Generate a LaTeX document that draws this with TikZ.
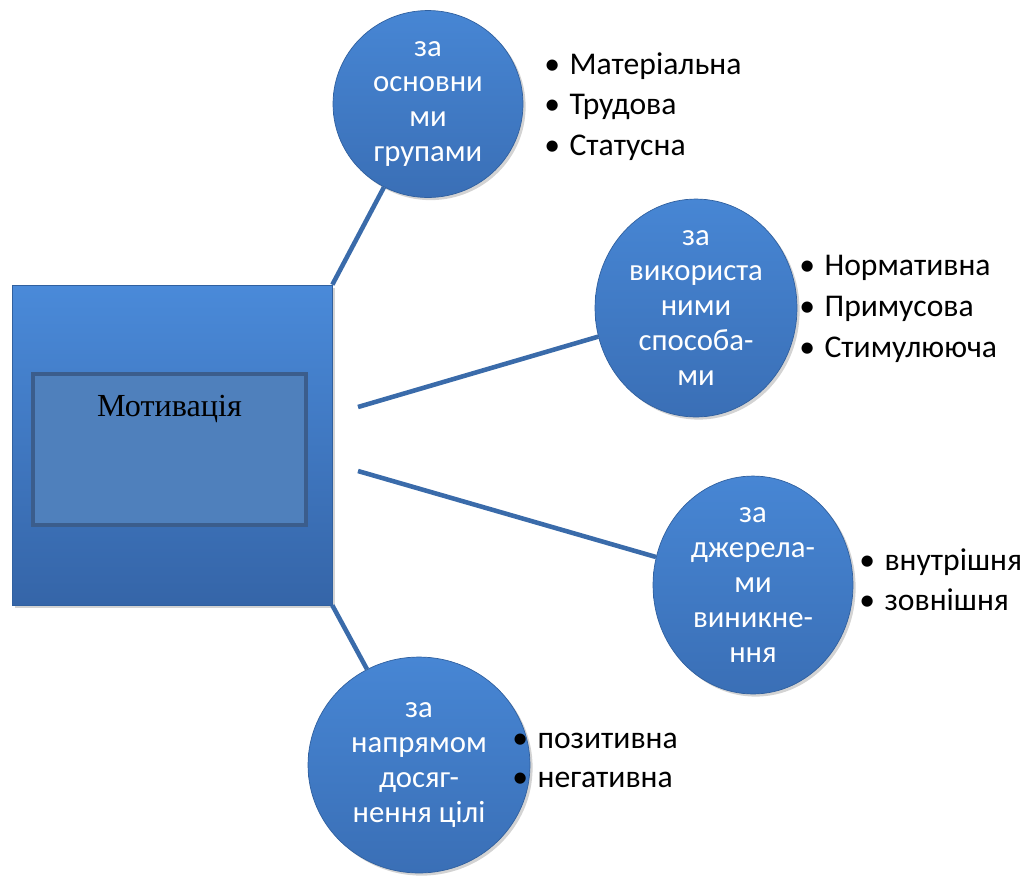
\documentclass[tikz,border=0pt]{standalone}
\usepackage{fontspec}
\setmainfont{Carlito}
\newfontfamily\timesfont{Liberation Serif}
\usetikzlibrary{shapes.geometric,shadows,positioning}

\definecolor{ballTop}{HTML}{4786D4}
\definecolor{ballBot}{HTML}{3A6FB6}
\definecolor{ballLine}{HTML}{30609F}
\definecolor{boxTop}{HTML}{4A8AD9}
\definecolor{boxBot}{HTML}{3565A8}
\definecolor{innerFill}{HTML}{4F80BC}
\definecolor{innerLine}{HTML}{3B5D8C}
\definecolor{linkBlue}{HTML}{3A6BAA}

\begin{document}
\begin{tikzpicture}[x=0.02cm,y=-0.02cm,
  ball/.style={ellipse,inner sep=0pt,top color=ballTop,bottom color=ballBot,draw=ballLine,thin,
    text=white,align=center,font=\fontsize{17.5}{19.8}\selectfont,
    drop shadow={shadow xshift=1.5pt,shadow yshift=-1.5pt,opacity=0.35}},
  item/.style={anchor=base west,inner sep=0pt,font=\fontsize{18}{23}\selectfont},
  link/.style={draw=linkBlue,line width=2.6pt}]
\useasboundingbox (0,0) rectangle (1034,877);

% main box
\node[rectangle,minimum width=6.4cm,minimum height=6.4cm,top color=boxTop,bottom color=boxBot,
  draw=ballLine,thin,drop shadow={shadow xshift=1.5pt,shadow yshift=-1.5pt,opacity=0.35}] (box) at (172,445) {};
\node[rectangle,minimum width=5.46cm,minimum height=3.02cm,fill=innerFill,draw=innerLine,line width=2.3pt] (inner) at (169.5,449.5) {};
\node[anchor=base,inner sep=0pt,font=\timesfont\fontsize{18.3}{20}\selectfont] (mot) at (169.5,416.5) {Мотивація};

% groups
\node[ball,minimum width=3.8cm,minimum height=3.74cm] (c1) at (428,104) {за\\основни\\ми\\групами};
\node[ball,minimum width=4.04cm,minimum height=3.66cm] (c2) at (696,308) {за\\використа\\ними\\способа-\\ми};
\node[ball,minimum width=4.0cm,minimum height=4.28cm] (c3) at (753,585) {за\\джерела-\\ми\\виникне-\\ння};
\node[ball,minimum width=4.44cm,minimum height=4.32cm] (c4) at (419,765) {за\\напрямом\\досяг-\\нення цілі};

\coordinate (s2) at (358,407);
\coordinate (s3) at (358,471);
\draw[link] (box.north east) -- (c1);
\draw[link] (s2) -- (c2);
\draw[link] (s3) -- (c3);
\draw[link] (box.south east) -- (c4);

% bullet lists
\foreach \t [count=\i] in {Матеріальна,Трудова,Статусна}
  \node[item] (g1-\i) at (544,{74+40.5*(\i-1)}) {\textbullet\hspace{0.3em}\t};
\foreach \t [count=\i] in {Нормативна,Примусова,Стимулююча}
  \node[item] (g2-\i) at (799,{275+41*(\i-1)}) {\textbullet\hspace{0.3em}\t};
\foreach \t [count=\i] in {внутрішня,зовнішня}
  \node[item] (g3-\i) at (859,{570+40*(\i-1)}) {\textbullet\hspace{0.3em}\t};
\foreach \t [count=\i] in {позитивна,негативна}
  \node[item] (g4-\i) at (512,{748+39*(\i-1)}) {\textbullet\hspace{0.3em}\t};
\end{tikzpicture}
\end{document}
